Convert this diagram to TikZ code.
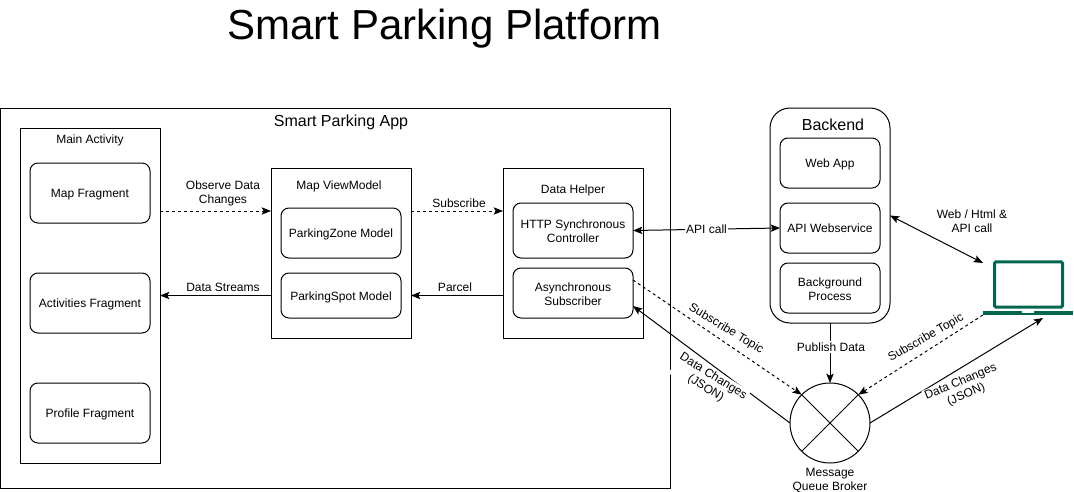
\documentclass[tikz,border=0pt]{standalone}
\usepackage{fontspec}
\setmainfont{Liberation Sans}
\usepackage{xcolor}
\definecolor{laptopgreen}{HTML}{006650}
\usetikzlibrary{arrows.meta, positioning}
\begin{document}
\begin{tikzpicture}[x=.75pt,y=-.75pt,>={Stealth[length=7pt,width=5.5pt,inset=1.5pt]},
  line width=.75pt,
  every node/.style={font=\fontsize{9}{10.5}\selectfont,inner sep=0pt,outer sep=0pt,align=center},
  panel/.style={draw,minimum width=105pt},
  frag/.style={draw,rounded corners=6pt,minimum width=90pt,
    execute at begin node=\rule{0pt}{9pt},execute at end node=\rule[-2pt]{0pt}{2pt}},
  twoline/.style={execute at begin node=\rule{0pt}{20.5pt}},
  lbl/.style={fill=white,inner sep=1pt},
  dashline/.style={dash pattern=on 2.25pt off 2.25pt},
  head/.style={font=\fontsize{12}{14}\selectfont}]
 \useasboundingbox (0,0) rectangle (1074,492);
 \node[font=\fontsize{31.5}{36}\selectfont] (title) at (444.5,29) {Smart Parking Platform};
 \node[draw,minimum width=502.5pt,minimum height=285pt] (app) at (335,298) {};
 \node[head,xshift=4.5pt,yshift=-10.5pt] (apptext) at (app.north) {Smart Parking App};

 \node[panel,minimum height=251.25pt] (main) at (90,295.5) {};
 \node[yshift=-9pt] (maintext) at (main.north) {Main Activity};
 \node[frag,minimum height=45pt,below=26.25pt of main.north] (mapf) {Map Fragment};
 \node[frag,minimum height=45pt,below=37.5pt of mapf] (actf) {Activities Fragment};
 \node[frag,minimum height=45pt,below=37.5pt of actf] (prof) {Profile Fragment};

 \node[panel,minimum height=127.5pt,right=83.25pt of main,yshift=31.875pt] (vm) {};
 \node[xshift=-1.5pt,yshift=-13.5pt] (vmtext) at (vm.north) {Map ViewModel};
 \node[frag,minimum height=37.5pt,below=30pt of vm.north] (zone) {ParkingZone Model};
 \node[frag,minimum height=33.75pt,below=11.25pt of zone] (spot) {ParkingSpot Model};

 \node[panel,minimum height=127.5pt,right=69pt of vm] (helper) {};
 \node[yshift=-16.5pt] (helpertext) at (helper.north) {Data Helper};
 \node[frag,twoline,minimum height=41.25pt,below=26.25pt of helper.north] (http) {HTTP Synchronous\\Controller};
 \node[frag,twoline,minimum height=37.5pt,below=7.5pt of http] (async) {Asynchronous\\Subscriber};

 \node[draw,rounded corners=15pt,minimum width=90pt,minimum height=161.25pt,
   right=95.25pt of helper,yshift=28.125pt] (backend) {};
 \node[head,xshift=2.25pt,yshift=-12.75pt] (backendtext) at (backend.north) {Backend};
 \node[frag,minimum width=75pt,minimum height=37.5pt,below=22.5pt of backend.north] (web) {Web App};
 \node[frag,minimum width=75pt,minimum height=37.5pt,below=11.25pt of web] (api) {API Webservice};
 \node[frag,twoline,minimum width=75pt,minimum height=37.5pt,below=7.5pt of api] (bg) {Background\\Process};

 \node[draw,circle,minimum size=60pt,below=45pt of backend] (broker) {};
 \draw (broker.45)--(broker.225);
 \draw (broker.135)--(broker.315);
 \node[below=3.75pt of broker] (brokertext) {Message\\Queue Broker};

 \node[draw=laptopgreen,line width=2.25pt,rounded corners=1pt,minimum width=51pt,minimum height=34pt] (screen) at (1028.5,284.5) {};
 \node[fill=laptopgreen,minimum width=67.5pt,minimum height=3pt] (base) at (1028,313) {};
 \node[fill=white,minimum width=9pt,minimum height=1.5pt,below=0pt of base.north] (notch) {};
 \coordinate (webend) at (983,263);
 \coordinate (dataend) at (1043,318);

 \draw[->,dashline] ([yshift=31.5pt]main.east |- vm.west)--([yshift=31.5pt]vm.west)
   node[midway,above=3.5pt,xshift=5.6pt] (observe) {Observe Data\\Changes};
 \draw[->,dashline] ([yshift=31.5pt]vm.east)--([yshift=31.5pt]helper.west)
   node[midway,above=2.5pt,xshift=1.5pt] (subscribe) {Subscribe};
 \draw[->] (vm.west |- spot)--(main.east |- spot)
   node[midway,above=2.75pt,xshift=5.6pt] (streams) {Data Streams};
 \draw[->] (helper.west |- spot)--(vm.east |- spot)
   node[midway,above=2.75pt,xshift=-1.5pt] (parcel) {Parcel};
 \draw[<->] (http.east)--(api.west)
   node[midway,lbl] (apicall) {API call};
 \draw[<->] (backend.east)--(webend);
 \node (webtext) at (972,221) {Web / Html \&\\API call};
 \draw[->] (backend.south)--(broker.north)
   node[pos=.4,lbl,xshift=.75pt] (publish) {Publish Data};
 \draw[->,dashline] ([yshift=9.75pt]async.east)--(broker.135);
 \node[rotate=-31] (topicleft) at (726,329) {Subscribe Topic};
 \draw[->,dashline] (base.south west)--(broker.45);
 \node[rotate=30] (topicright) at (926,338) {Subscribe Topic};
 \draw[->] (broker.west)--([yshift=-9.75pt]async.east);
 \node[lbl,rotate=-32] (changesleft) at (709.5,382.5) {Data Changes\\(JSON)};
 \draw[->] (broker.east)--(dataend);
 \node[lbl,rotate=23] (changesright) at (963.5,388.5) {Data Changes\\(JSON)};
\end{tikzpicture}
\end{document}
